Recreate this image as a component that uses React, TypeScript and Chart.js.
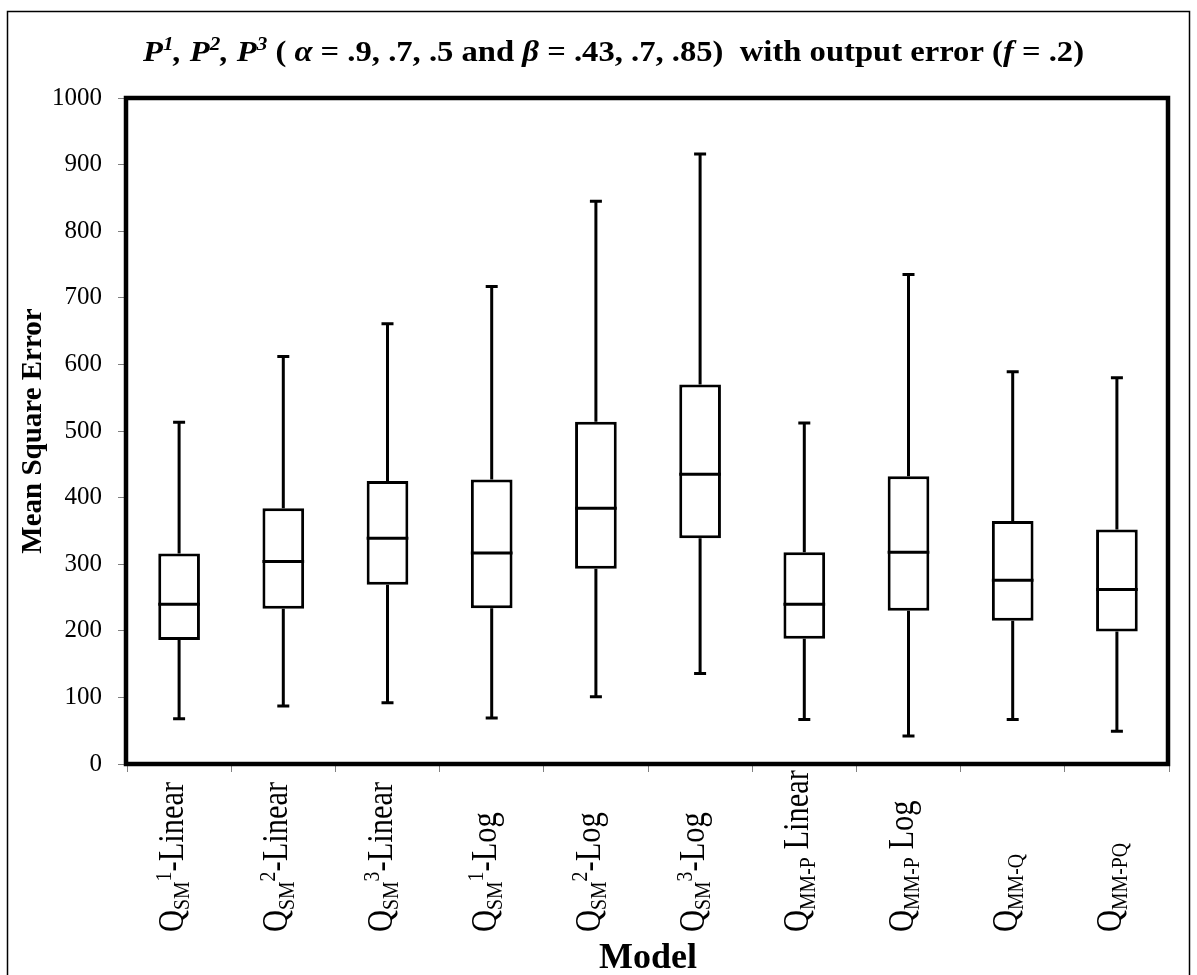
import React, { useEffect, useRef } from 'react';
import { Chart, registerables } from 'chart.js';

Chart.register(...registerables);

// ---------- data ----------
const labelSubs = ['SM', 'SM', 'SM', 'SM', 'SM', 'SM', 'MM-P', 'MM-P', 'MM-Q', 'MM-PQ'];
const labelSups = ['1', '2', '3', '1', '2', '3', '', '', '', ''];
const labelTails = ['-Linear', '-Linear', '-Linear', '-Log', '-Log', '-Log', ' Linear', ' Log', '', ''];
const categories = labelSubs.map((s, i) => 'Q' + s + labelSups[i] + labelTails[i]);

const whiskerMin = [68, 87, 92, 69, 101, 136, 67, 42, 67, 49];
const quartile1 = [186, 233, 269, 234, 293, 339, 188, 230, 215, 199];
const medians = [240, 304, 339, 317, 384, 435, 240, 318, 276, 262];
const quartile3 = [316, 384, 425, 427, 514, 570, 318, 432, 365, 352];
const whiskerMax = [513, 612, 661, 717, 845, 916, 512, 735, 589, 580];

const yMin = 0;
const yMax = 1000;
const yStep = 100;

const yTitle = 'Mean Square Error';
const xTitle = 'Model';

type Run = { t: string; k?: 'sub' | 'sup'; it?: boolean };
const titleRuns: Run[] = [
  { t: 'P', it: true }, { t: '1', it: true, k: 'sup' }, { t: ', ', it: true },
  { t: 'P', it: true }, { t: '2', it: true, k: 'sup' }, { t: ', ', it: true },
  { t: 'P', it: true }, { t: '3', it: true, k: 'sup' },
  { t: ' ( ' }, { t: 'α', it: true }, { t: ' = .9, .7, .5 and ' },
  { t: 'β', it: true }, { t: ' = .43, .7, .85)  with output error (' },
  { t: 'f', it: true }, { t: ' = .2)' },
];

// ---------- helpers ----------
const FONT = '"Liberation Serif", "Times New Roman", serif';
const fontStr = (size: number, bold: boolean, italic?: boolean) =>
  `${italic ? 'italic ' : ''}${bold ? 'bold ' : ''}${size}px ${FONT}`;

function runsWidth(ctx: CanvasRenderingContext2D, runs: Run[], size: number, bold: boolean) {
  let w = 0;
  for (const r of runs) {
    const s = r.k ? size * 0.65 : size;
    ctx.font = fontStr(s, bold, r.it);
    w += ctx.measureText(r.t).width;
  }
  return w;
}

function drawRuns(ctx: CanvasRenderingContext2D, runs: Run[], size: number, bold: boolean) {
  let x = 0;
  ctx.textAlign = 'left';
  ctx.textBaseline = 'alphabetic';
  ctx.fillStyle = '#000';
  for (const r of runs) {
    const s = r.k ? size * 0.65 : size;
    const dy = r.k === 'sub' ? size * 0.18 : r.k === 'sup' ? -size * 0.36 : 0;
    ctx.font = fontStr(s, bold, r.it);
    ctx.fillText(r.t, x, dy);
    x += ctx.measureText(r.t).width;
  }
}

const labelRuns = (i: number): Run[] => {
  const runs: Run[] = [{ t: 'Q' }, { t: labelSubs[i], k: 'sub' }];
  if (labelSups[i]) runs.push({ t: labelSups[i], k: 'sup' });
  if (labelTails[i]) runs.push({ t: labelTails[i] });
  return runs;
};

const boxPlugin = {
  id: 'boxDecor',
  beforeDraw(chart: any) {
    const ctx = chart.ctx as CanvasRenderingContext2D;
    ctx.save();
    ctx.fillStyle = '#fff';
    ctx.fillRect(0, 0, chart.width, chart.height);
    ctx.strokeStyle = '#000';
    ctx.lineWidth = 1.5;
    ctx.strokeRect(7.5, 11.5, 1182, 1000);
    ctx.restore();
  },
  afterDatasetsDraw(chart: any) {
    const ctx = chart.ctx as CanvasRenderingContext2D;
    const xs = chart.scales.x;
    const ys = chart.scales.y;
    const meta = chart.getDatasetMeta(0);
    ctx.save();
    ctx.strokeStyle = '#000';
    ctx.lineWidth = 3;
    ctx.lineCap = 'butt';
    categories.forEach((_, i) => {
      const cx = xs.getPixelForValue(i);
      const bw = meta.data[i] ? meta.data[i].width : 42;
      const capHalf = 6;
      const yMaxP = ys.getPixelForValue(whiskerMax[i]);
      const yQ3 = ys.getPixelForValue(quartile3[i]);
      const yQ1 = ys.getPixelForValue(quartile1[i]);
      const yMinP = ys.getPixelForValue(whiskerMin[i]);
      const yMed = ys.getPixelForValue(medians[i]);
      ctx.beginPath();
      ctx.moveTo(cx, yQ3);
      ctx.lineTo(cx, yMaxP);
      ctx.moveTo(cx - capHalf, yMaxP);
      ctx.lineTo(cx + capHalf, yMaxP);
      ctx.moveTo(cx, yQ1);
      ctx.lineTo(cx, yMinP);
      ctx.moveTo(cx - capHalf, yMinP);
      ctx.lineTo(cx + capHalf, yMinP);
      ctx.moveTo(cx - bw / 2, yMed);
      ctx.lineTo(cx + bw / 2, yMed);
      ctx.stroke();
    });
    const a = chart.chartArea;
    ctx.lineWidth = 4.5;
    ctx.strokeRect(a.left - 1, a.top, a.right - a.left, a.bottom - a.top);
    ctx.restore();
  },
  afterDraw(chart: any) {
    const ctx = chart.ctx as CanvasRenderingContext2D;
    const xs = chart.scales.x;
    const a = chart.chartArea;
    // title
    ctx.save();
    const tSize = 30;
    const tw = runsWidth(ctx, titleRuns, tSize, true);
    ctx.translate(143, 61);
    ctx.scale(941 / tw, 1);
    drawRuns(ctx, titleRuns, tSize, true);
    ctx.restore();
    // y title
    ctx.save();
    const yt: Run[] = [{ t: yTitle }];
    const ySize = 29;
    const yw = runsWidth(ctx, yt, ySize, true);
    ctx.translate(41, (a.top + a.bottom) / 2);
    ctx.rotate(-Math.PI / 2);
    ctx.translate(-yw / 2, 0);
    drawRuns(ctx, yt, ySize, true);
    ctx.restore();
    // x title
    ctx.save();
    const xt: Run[] = [{ t: xTitle }];
    const xSize = 36;
    const xw = runsWidth(ctx, xt, xSize, true);
    ctx.translate((a.left + a.right) / 2 - xw / 2, 968);
    drawRuns(ctx, xt, xSize, true);
    ctx.restore();
    // category labels
    categories.forEach((_, i) => {
      const cx = xs.getPixelForValue(i);
      ctx.save();
      ctx.translate(cx + 4, 932);
      ctx.rotate(-Math.PI / 2);
      ctx.scale(0.87, 1);
      drawRuns(ctx, labelRuns(i), 35, false);
      ctx.restore();
    });
  },
};

export default function App() {
  const ref = useRef<HTMLCanvasElement | null>(null);
  useEffect(() => {
    if (!ref.current) return;
    const chart = new Chart(ref.current, {
      type: 'bar',
      data: {
        labels: categories,
        datasets: [
          {
            label: 'IQR',
            data: quartile1.map((q, i) => [q, quartile3[i]]) as any,
            backgroundColor: '#ffffff',
            borderColor: '#000000',
            borderWidth: 3,
            borderSkipped: false,
            barPercentage: 0.4,
            categoryPercentage: 1,
          },
        ],
      },
      options: {
        animation: false,
        responsive: false,
        devicePixelRatio: 1,
        layout: { padding: { top: 98, right: 28, bottom: 0, left: 0 } },
        plugins: {
          legend: { display: false },
          tooltip: { enabled: false },
          title: { display: false },
        },
        scales: {
          x: {
            type: 'category',
            offset: true,
            grid: {
              offset: true,
              drawOnChartArea: false,
              drawTicks: true,
              tickLength: 8,
              color: '#808080',
              lineWidth: 1,
            },
            border: { display: false },
            ticks: { display: false },
            afterFit: (s: any) => {
              s.height = 211;
            },
          },
          y: {
            min: yMin,
            max: yMax,
            grid: {
              drawOnChartArea: false,
              drawTicks: true,
              tickLength: 9,
              color: '#808080',
              lineWidth: 1,
            },
            border: { display: false },
            ticks: {
              stepSize: yStep,
              color: '#000',
              padding: 16,
              font: { family: FONT, size: 25 },
              callback: (v: any) => String(v),
            },
            afterFit: (s: any) => {
              s.width = 127;
            },
          },
        },
      },
      plugins: [boxPlugin],
    });
    return () => chart.destroy();
  }, []);
  return (
    <div style={{ position: 'absolute', left: 0, top: 0, width: 1197, height: 975, background: '#fff' }}>
      <canvas ref={ref} width={1197} height={975} style={{ display: 'block' }} />
    </div>
  );
}
